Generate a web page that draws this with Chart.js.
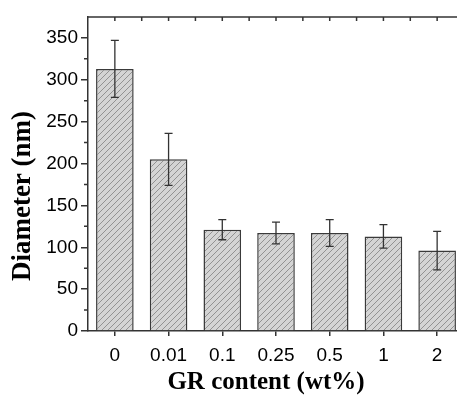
<!DOCTYPE html>
<html>
<head>
<meta charset="UTF-8">
<script src="https://cdn.jsdelivr.net/npm/chart.js"></script>
<style>
  body { margin: 0; padding: 0; background: #fff; overflow: hidden; }
  #wrap { width: 457px; height: 396px; overflow: hidden; }
</style>
</head>
<body>
<div id="wrap"><canvas id="c" width="468" height="396"></canvas></div>
<script>
// data
const categories = ['0', '0.01', '0.1', '0.25', '0.5', '1', '2'];
const diameter = [313, 205, 121, 117, 117, 113, 96];
const errors = [34, 31, 12, 13, 16, 14, 23];
const yMin = 0, yMax = 375, yStep = 50;
const xTitle = 'GR content (wt%)';
const yTitle = 'Diameter (nm)';

// hatch fill ///
function hatch() {
  const s = 6;
  const p = document.createElement('canvas');
  p.width = s; p.height = s;
  const g = p.getContext('2d');
  g.fillStyle = '#d4d4d4';
  g.fillRect(0, 0, s, s);
  g.strokeStyle = '#8a8a8a';
  g.lineWidth = 0.9;
  g.beginPath();
  g.moveTo(0, s); g.lineTo(s, 0);
  g.moveTo(-1, 1); g.lineTo(1, -1);
  g.moveTo(s - 1, s + 1); g.lineTo(s + 1, s - 1);
  g.stroke();
  return g.createPattern(p, 'repeat');
}

const axisColor = '#333';

// error bars, minor ticks, top frame and axis titles
const extras = {
  id: 'extras',
  afterDatasetsDraw(chart) {
    const ctx = chart.ctx;
    const x = chart.scales.x, y = chart.scales.y;
    ctx.save();
    ctx.strokeStyle = '#333';
    ctx.lineWidth = 1.3;
    diameter.forEach((v, i) => {
      const px = x.getPixelForValue(i);
      const top = y.getPixelForValue(v + errors[i]);
      const bot = y.getPixelForValue(v - errors[i]);
      ctx.beginPath();
      ctx.moveTo(px, top); ctx.lineTo(px, bot);
      ctx.moveTo(px - 4, top); ctx.lineTo(px + 4, top);
      ctx.moveTo(px - 4, bot); ctx.lineTo(px + 4, bot);
      ctx.stroke();
    });
    ctx.restore();
  },
  afterDraw(chart) {
    const ctx = chart.ctx;
    const x = chart.scales.x, y = chart.scales.y;
    const a = chart.chartArea;
    ctx.save();
    ctx.strokeStyle = axisColor;
    ctx.lineWidth = 1.5;
    // top frame line
    ctx.beginPath();
    ctx.moveTo(a.left, a.top); ctx.lineTo(a.right + 5, a.top);
    ctx.stroke();
    // top ticks at category centres and boundaries, pointing in
    const half = (x.getPixelForValue(1) - x.getPixelForValue(0)) / 2;
    ctx.beginPath();
    for (let i = 0; i < categories.length; i++) {
      const c = x.getPixelForValue(i);
      [c - half, c].forEach(px => {
        if (px > a.left + 1) { ctx.moveTo(px, a.top); ctx.lineTo(px, a.top + 4); }
      });
    }
    // minor y ticks
    for (let v = yMin + yStep / 2; v < yMax; v += yStep) {
      const py = y.getPixelForValue(v);
      ctx.moveTo(a.left, py); ctx.lineTo(a.left - 4, py);
    }
    ctx.stroke();

    // axis titles
    ctx.fillStyle = '#000';
    ctx.textAlign = 'center';
    ctx.textBaseline = 'middle';
    ctx.font = 'bold 25px "Liberation Serif"';
    ctx.fillText(xTitle, (a.left + a.right) / 2 - 10, 383);
    ctx.translate(23.5, (a.top + a.bottom) / 2 + 22);
    ctx.rotate(-Math.PI / 2);
    ctx.font = 'bold 27px "Liberation Serif"';
    ctx.fillText(yTitle, 0, 0);
    ctx.restore();
  }
};

new Chart(document.getElementById('c'), {
  type: 'bar',
  data: {
    labels: categories,
    datasets: [{
      data: diameter,
      backgroundColor: hatch(),
      borderColor: '#3a3a3a',
      borderWidth: 1.5,
      categoryPercentage: 1,
      barPercentage: 0.7
    }]
  },
  options: {
    responsive: false,
    animation: false,
    layout: { padding: { left: 0, top: 17, right: 4, bottom: 0 } },
    plugins: { legend: { display: false }, tooltip: { enabled: false } },
    scales: {
      x: {
        grid: { offset: false, drawOnChartArea: false, tickLength: 5, color: axisColor, lineWidth: 1.5 },
        border: { color: axisColor, width: 1.5 },
        ticks: { color: '#000', font: { family: 'Liberation Sans', size: 19 }, padding: 8, maxRotation: 0 },
        afterFit(s) { s.height = 65; }
      },
      y: {
        min: yMin, max: yMax,
        grid: { drawOnChartArea: false, tickLength: 7, color: axisColor, lineWidth: 1.5 },
        border: { color: axisColor, width: 1.5 },
        ticks: { stepSize: yStep, includeBounds: false, color: '#000', font: { family: 'Liberation Sans', size: 19 }, padding: 3 },
        afterFit(s) { s.width = 88; }
      }
    }
  },
  plugins: [extras]
});
</script>
</body>
</html>
